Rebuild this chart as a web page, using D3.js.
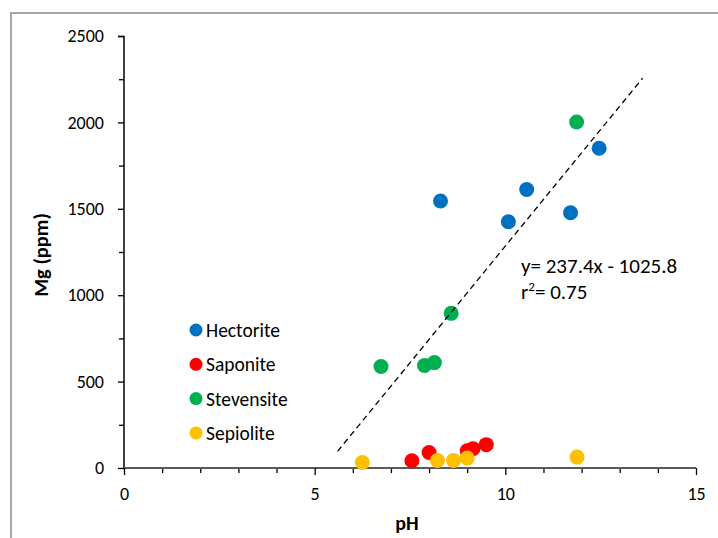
<!DOCTYPE html>
<html><head><meta charset="utf-8">
<script src="https://cdn.jsdelivr.net/npm/d3@7"></script>
<style>body{margin:0;background:#fff;} svg{display:block;} text{font-family:Carlito, Lato, "Open Sans", sans-serif;fill:#000;}</style>
</head><body>
<svg id="c" width="718" height="538"></svg>
<script>
const seriesNames = ["Hectorite","Saponite","Stevensite","Sepiolite"];
const seriesColors = ["#0070C0","#FF0000","#00B050","#FFC000"];
const hectoriteX = [8.3, 10.56, 10.08, 11.71, 12.46];
const hectoriteY = [1545, 1612, 1425, 1477, 1850];
const saponiteX = [7.55, 8.0, 9.0, 9.15, 9.5];
const saponiteY = [42, 90, 100, 112, 135];
const stevensiteX = [11.87, 8.58, 6.74, 7.88, 8.14];
const stevensiteY = [2002, 895, 587, 593, 610];
const sepioliteX = [6.25, 8.22, 8.64, 9.0, 11.88];
const sepioliteY = [32, 44, 44, 58, 63];
const trendX = [5.6, 13.6];
const trendY = [96, 2256];
const xTicks = [0,5,10,15];
const yTicks = [0,500,1000,1500,2000,2500];
const eqText = "y= 237.4x - 1025.8";
const r2Text = "= 0.75";

const svg = d3.select("#c");
svg.append("path").attr("d","M11,540 L11,13 L720,13").attr("fill","none").attr("stroke","#a6a6a6").attr("stroke-width",2);

const x = d3.scaleLinear().domain([0,15]).range([124,696]);
const y = d3.scaleLinear().domain([0,2500]).range([468,36]);

const yMinor = d3.range(0,2501,250).filter(v=>v%500!==0);
svg.append("g").attr("transform","translate(124,0)")
  .call(d3.axisLeft(y).tickValues(yMinor).tickSize(5).tickFormat(""))
  .call(g=>{g.select(".domain").remove(); g.selectAll("line").attr("stroke","#000").attr("stroke-width",1.3);});
svg.append("g").attr("transform","translate(124,0)")
  .call(d3.axisLeft(y).tickValues(yTicks).tickSize(6).tickPadding(14).tickFormat(d3.format("d")))
  .call(g=>{g.select(".domain").attr("stroke","#000").attr("stroke-width",1.5).attr("d","M-6,36.5H0V468");
    g.selectAll("line").attr("stroke","#000").attr("stroke-width",1.3);
    g.selectAll("text").attr("font-size",18).attr("fill","#000");});

const xMinor = d3.range(0,16,1).filter(v=>v%5!==0);
svg.append("g").attr("transform","translate(0,468)")
  .call(d3.axisBottom(x).tickValues(xMinor).tickSize(5).tickFormat(""))
  .call(g=>{g.select(".domain").remove(); g.selectAll("line").attr("stroke","#000").attr("stroke-width",1.3);});
svg.append("g").attr("transform","translate(0,468)")
  .call(d3.axisBottom(x).tickValues(xTicks).tickSize(7).tickPadding(12).tickFormat(d3.format("d")))
  .call(g=>{g.select(".domain").attr("stroke","#595959").attr("stroke-width",2).attr("d","M124,0H696");
    g.selectAll("line").attr("stroke","#000").attr("stroke-width",1.3);
    g.selectAll("text").attr("font-size",18).attr("fill","#000");});

svg.append("text").attr("x",407).attr("y",530).attr("text-anchor","middle").attr("font-size",20).attr("font-weight","bold").text("pH");
svg.append("text").attr("transform","translate(48,255) rotate(-90)").attr("text-anchor","middle").attr("font-size",20.5).attr("font-weight","bold").text("Mg (ppm)");

const allX = [hectoriteX, saponiteX, stevensiteX, sepioliteX];
const allY = [hectoriteY, saponiteY, stevensiteY, sepioliteY];
seriesNames.forEach((name,i)=>{
  const pts = allX[i].map((v,j)=>({x:v,y:allY[i][j]}));
  svg.append("g").selectAll("circle").data(pts).join("circle")
    .attr("cx",d=>x(d.x)).attr("cy",d=>y(d.y)).attr("r",7.5).attr("fill",seriesColors[i]);
});

const line = d3.line().x(d=>x(d[0])).y(d=>y(d[1]));
svg.append("path").attr("d",line(trendX.map((v,i)=>[v,trendY[i]])))
  .attr("fill","none").attr("stroke","#000").attr("stroke-width",1.3).attr("stroke-dasharray","6,4");

svg.append("text").attr("x",521).attr("y",273).attr("font-size",21).text(eqText);
const r2 = svg.append("text").attr("x",521).attr("y",299).attr("font-size",21);
r2.append("tspan").text("r");
r2.append("tspan").attr("dy",-8).attr("font-size",13).text("2");
r2.append("tspan").attr("dy",8).text(r2Text);

const leg = svg.append("g");
seriesNames.forEach((name,i)=>{
  const yy = 330 + i*34.3;
  leg.append("circle").attr("cx",196).attr("cy",yy).attr("r",6.5).attr("fill",seriesColors[i]);
  leg.append("text").attr("x",206).attr("y",yy+7).attr("font-size",19.5).text(name);
});
</script>
</body></html>
